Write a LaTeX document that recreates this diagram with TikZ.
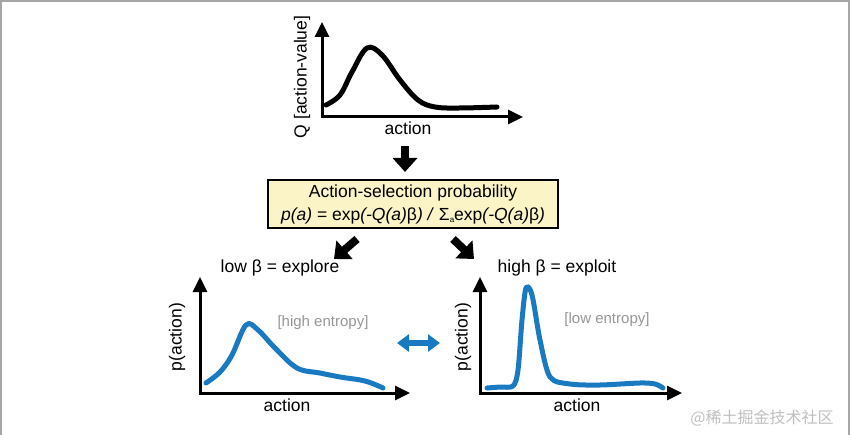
\documentclass[tikz,border=0pt]{standalone}
\usepackage{fontspec}
\setmainfont{Liberation Sans}
\newfontfamily\cjkfont{Noto Sans CJK SC}
\usetikzlibrary{shapes,arrows,arrows.meta,positioning,calc}
\definecolor{boxyellow}{RGB}{250,244,198}
\definecolor{curveblue}{RGB}{25,122,194}
\definecolor{labelgray}{RGB}{150,150,150}

\begin{document}
\begin{tikzpicture}[x=1pt, y=-1pt, font=\fontsize{17.5}{20}\selectfont]
  % Styles
  \tikzstyle{axis} = [draw, line width=3pt, -{Triangle[length=15pt,width=14pt]}]
  \tikzstyle{qcurve} = [draw, line width=5pt, line cap=round, line join=round]
  \tikzstyle{pcurve} = [draw=curveblue, line width=5pt, line cap=round, line join=round]
  \tikzstyle{probbox} = [rectangle, draw, line width=2pt, fill=boxyellow, minimum width=290pt, minimum height=48pt, inner sep=0pt, align=center, font=\fontsize{17.5}{23}\selectfont]
  \tikzstyle{blockarrow} = [draw, line width=8pt, -{Triangle[length=14pt,width=24pt]}]
  \tikzstyle{swaparrow} = [draw=curveblue, line width=6pt, {Triangle[length=12pt,width=17pt]}-{Triangle[length=12pt,width=17pt]}]
  \tikzstyle{entropy} = [text=labelgray, font=\fontsize{15}{18}\selectfont]

  \useasboundingbox (0,0) rectangle (850,435);
  \draw[gray!70, line width=1.5pt] (1,435) -- (1,1) -- (849,1) -- (849,435);

  % Q plot
  \draw[axis] (322,117) -- (322,22);
  \draw[axis] (320.5,117) -- (523,117);
  \draw[qcurve] plot[smooth, tension=0.6] coordinates {(326,105) (340,95) (352,72) (367,48) (382,55) (400,80) (418,100) (435,107) (460,108) (497,107)};
  \node[rotate=90] (qlabel) at (302,77) {Q [action-value]};
  \node (qaction) at (408,128) {action};

  % Nodes
  \node[probbox] (prob) at (413,204) {Action-selection probability\\
    \textit{p(a)} = exp\textit{(-Q(a)}β\textit{) /} Σ\raisebox{-2pt}{\fontsize{8}{8}\selectfont a}exp\textit{(-Q(a)}β\textit{)}};
  \node (low) at (280,268) {low β = explore};
  \node (high) at (557,268) {high β = exploit};

  % low beta plot
  \draw[axis] (200,393) -- (200,277);
  \draw[axis] (198.5,393) -- (410,393);
  \draw[pcurve] plot[smooth, tension=0.6] coordinates {(206,383) (220,372) (232,355) (246,325) (258,330) (275,348) (297,368) (320,373) (340,377) (365,381) (383,388)};
  \node[rotate=90] (lowy) at (177,337) {p(action)};
  \node (lowx) at (287,405) {action};
  \node[entropy] (highent) at (323,323) {[high entropy]};

  % high beta plot
  \draw[axis] (480,393) -- (480,277);
  \draw[axis] (478.5,393) -- (682,393);
  \draw[pcurve] plot[smooth, tension=0.5] coordinates {(487,388) (500,387) (513,386) (518,370) (522,320) (526,288) (532,295) (540,340) (550,377) (570,384) (600,385) (640,383) (655,384) (663,388)};
  \node[rotate=90] (highy) at (463,337) {p(action)};
  \node (highx) at (577,405) {action};
  \node[entropy] (lowent) at (607,320) {[low entropy]};

  % Edges
  \coordinate (qdown) at (405,146);
  \coordinate (lfrom) at ($(prob.south west)+(90,10)$);
  \coordinate (lto) at ($(prob.south west)+(67,30)$);
  \coordinate (rfrom) at ($(prob.south east)+(-106,10)$);
  \coordinate (rto) at ($(prob.south east)+(-85,30)$);
  \draw[blockarrow, shorten >=7pt] (qdown) -- (qdown |- prob.north);
  \draw[blockarrow] (lfrom) -- (lto);
  \draw[blockarrow] (rfrom) -- (rto);
  \coordinate (swl) at (397,343);
  \coordinate (swr) at (440,343);
  \draw[swaparrow] (swl) -- (swr);

  \node[text=gray!50, font=\fontsize{16}{18}\cjkfont] (mark) at (762,418) {@稀土掘金技术社区};
\end{tikzpicture}
\end{document}
